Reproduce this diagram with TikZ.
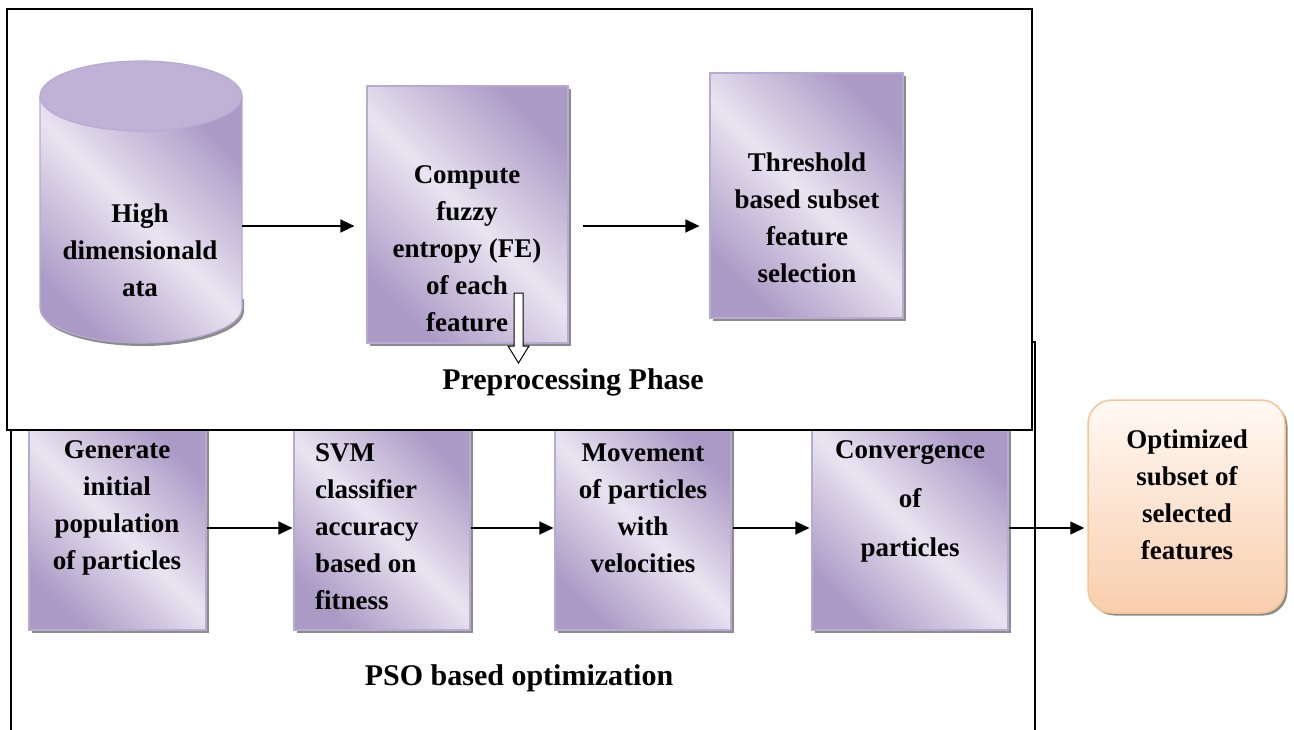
\documentclass[tikz,border=0pt]{standalone}
\usepackage{fontspec}
\setmainfont{Liberation Serif}
\usetikzlibrary{shadows,arrows.meta}
\definecolor{pdk}{RGB}{172,154,198}
\definecolor{plt}{RGB}{233,228,241}
\definecolor{pbd}{RGB}{184,170,210}
\definecolor{ptop}{RGB}{192,178,214}
\definecolor{otop}{RGB}{255,249,244}
\definecolor{obot}{RGB}{249,206,173}
\definecolor{obd}{RGB}{247,196,150}
\begin{document}
\begin{tikzpicture}[x=1pt,y=-1pt,
  pbox/.style={rectangle, draw=pbd, line width=1.2pt, inner sep=0pt,
    left color=pdk, right color=pdk, middle color=plt, shading angle=-45,
    general shadow={shadow xshift=2.5pt, shadow yshift=-2.5pt, fill=black!45}},
  pshade/.style={left color=pdk, right color=pdk, middle color=plt, shading angle=-45},
  lbl/.style={font=\rmfamily\fontsize{27}{37}\selectfont\bfseries, align=center, inner sep=0pt},
  phase/.style={font=\rmfamily\fontsize{30}{36}\selectfont\bfseries, inner sep=0pt},
  frame/.style={draw=black, line width=1.6pt},
  arr/.style={-{Triangle[length=14pt,width=13pt]}, line width=1.4pt}
]
\useasboundingbox (0,0) rectangle (1294,729);
\begin{scope}
\clip (0,0) rectangle (1294,729);
% PSO frame (top hidden under the preprocessing frame)
\draw[frame] (11,342) rectangle (1035,760);
\end{scope}

% bottom boxes
\node[pbox, minimum width=177pt, minimum height=204pt] (g1) at (117.5,528) {};
\node[pbox, minimum width=176pt, minimum height=204pt] (g2) at (382,528) {};
\node[pbox, minimum width=176pt, minimum height=204pt] (g3) at (643,528) {};
\node[pbox, minimum width=196pt, minimum height=204pt] (g4) at (910,528) {};

% preprocessing frame
\draw[frame, fill=white] (7,9) rectangle (1032,430);

% cylinder
\node[minimum width=202pt, minimum height=283pt, inner sep=0pt] (cyl) at (141,201.5) {};
\fill[black!45] (42,299) -- (42,311) arc[start angle=180,end angle=0,x radius=101,y radius=35] -- (244,299) -- cycle;
\shade[pshade] (40,96) -- (40,308) arc[start angle=180,end angle=0,x radius=101,y radius=35] -- (242,96) -- cycle;
\draw[pbd, line width=1.2pt] (40,96) -- (40,308) arc[start angle=180,end angle=0,x radius=101,y radius=35] -- (242,96);
\filldraw[fill=ptop, draw=pbd, line width=1.2pt] (141,96) ellipse[x radius=101, y radius=35];
\node[lbl] (cylt) at (140,250) {High\\dimensionald\\ata};

% top boxes
\node[pbox, minimum width=201pt, minimum height=257pt] (comp) at (467.5,214.5) {};
\node[lbl] (compt) at (467,249) {Compute\\fuzzy\\entropy (FE)\\of each\\feature};
\node[pbox, minimum width=193pt, minimum height=245pt] (thr) at (806.5,195.5) {};
\node[lbl] (thrt) at (807,218) {Threshold\\based subset\\feature\\selection};

% hollow down arrow
\draw[fill=white, line width=1pt] (514,293) -- (523,293) -- (523,346) -- (529,346) -- (518.5,363) -- (508,346) -- (514,346) -- cycle;
\node[phase] (pre) at (573,382) {Preprocessing Phase};

% top arrows
\draw[arr, shorten >=12pt] (cyl.east |- 0,226) -- (comp.west |- 0,226);
\draw[arr, shorten <=14pt, shorten >=10pt] (comp.east |- 0,226) -- (thr.west |- 0,226);

% bottom texts
\node[lbl] (g1t) at (117,508) {Generate\\initial\\population\\of particles};
\node[lbl, align=left, anchor=west] (g2t) at (315,527) {SVM\\classifier\\accuracy\\based on\\fitness};
\node[lbl] (g3t) at (643,508) {Movement\\of particles\\with\\velocities};
\node[lbl] (g4t) at (910,501) {Convergence\\[12pt]of\\[12pt]particles};
\node[phase] (pso) at (519,678) {PSO based optimization};

% output box
\node[rectangle, rounded corners=24pt, draw=obd, line width=1.5pt, top color=otop, bottom color=obot,
  minimum width=197pt, minimum height=213pt, inner sep=0pt,
  general shadow={shadow xshift=2.5pt, shadow yshift=-2.5pt, fill=black!45}] (opt) at (1186.5,506.5) {};
\node[lbl] (optt) at (1187,495) {Optimized\\subset of\\selected\\features};

% bottom arrows
\draw[arr, shorten >=1pt] (g1.east) -- (g2.west);
\draw[arr, shorten >=1pt] (g2.east) -- (g3.west);
\draw[arr, shorten <=1pt, shorten >=2pt] (g3.east) -- (g4.west);
\draw[arr, shorten >=3pt] (g4.east) -- (opt.west |- g4.east);
\end{tikzpicture}
\end{document}
